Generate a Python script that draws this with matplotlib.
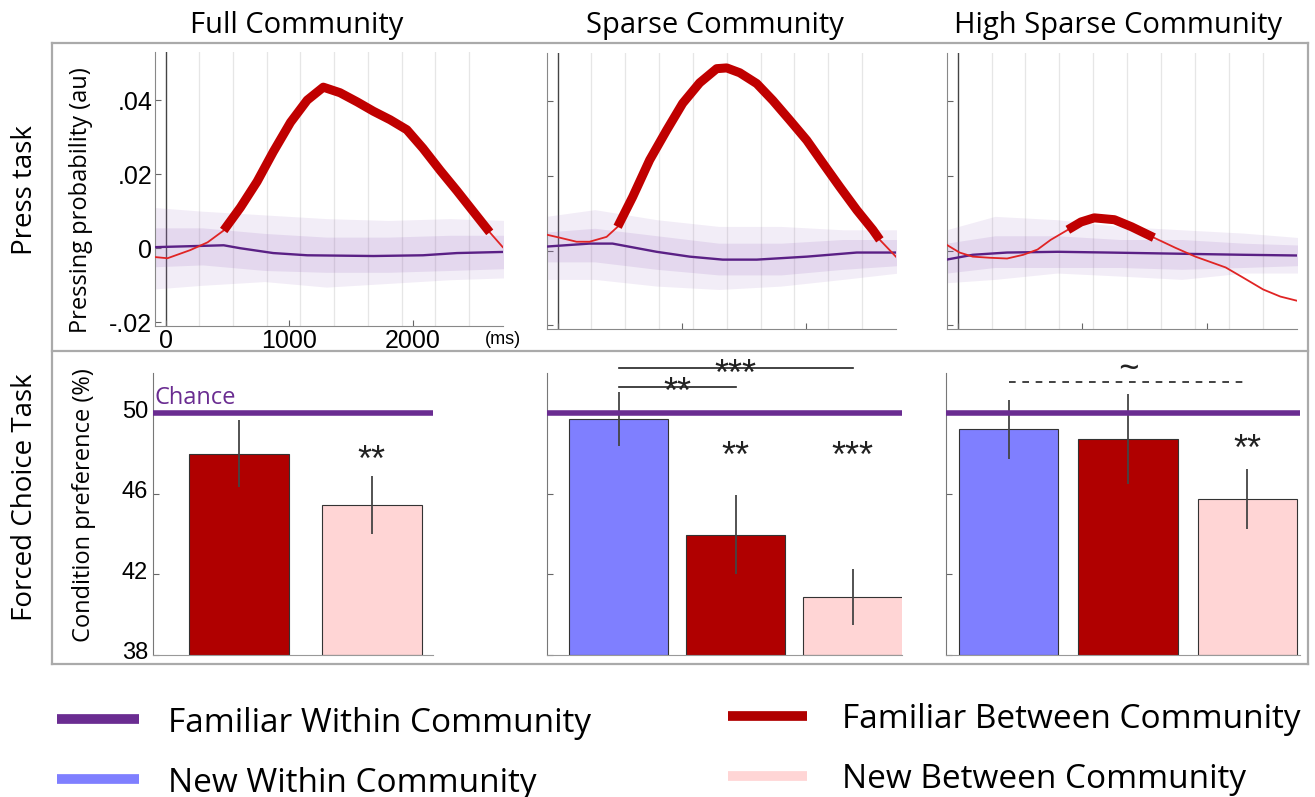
import numpy as np
import matplotlib
matplotlib.use("Agg")
import matplotlib.pyplot as plt
from matplotlib.lines import Line2D
from matplotlib.transforms import ScaledTranslation

# ---------------- data ----------------
panel_titles = ["Full Community", "Sparse Community", "High Sparse Community"]

# Press task: Familiar Between Community time course (ms, au)
red_t1 = [-80, 16, 200, 340, 470, 605, 740, 870, 1010, 1145, 1275, 1410, 1550, 1680,
          1815, 1950, 2080, 2220, 2355, 2485, 2620, 2725]
red_v1 = [-0.0024, -0.0027, -0.0005, 0.0016, 0.0048, 0.011, 0.018, 0.026, 0.034, 0.040,
          0.0435, 0.042, 0.0395, 0.037, 0.0347, 0.032, 0.027, 0.021, 0.0155, 0.010, 0.0043, 0.0003]
red_t2 = [-89, 16, 153, 258, 395, 484, 605, 742, 879, 1008, 1145, 1282, 1363, 1468, 1605,
          1734, 1871, 2008, 2137, 2274, 2411, 2540, 2597, 2726]
red_v2 = [0.0043, 0.0035, 0.0024, 0.0024, 0.0037, 0.0064, 0.0144, 0.0243, 0.0323, 0.0395,
          0.045, 0.0488, 0.049, 0.0477, 0.0448, 0.0403, 0.035, 0.0296, 0.0235, 0.0171,
          0.0109, 0.0056, 0.0029, -0.0016]
red_t3 = [-89, 16, 122, 260, 398, 528, 642, 748, 886, 992, 1098, 1260, 1398, 1577, 1748,
          1911, 2154, 2293, 2455, 2593, 2748]
red_v3 = [0.0016, -0.0005, -0.0016, -0.0019, -0.0021, -0.0011, 0.0003, 0.0029, 0.0056,
          0.0077, 0.0088, 0.0083, 0.0064, 0.0035, 0.0008, -0.0016, -0.0045, -0.0072,
          -0.0104, -0.0123, -0.0136]
sig_windows = [(470, 2620), (484, 2597), (886, 1577)]

# Familiar Within Community (mean of null) time course
pur_t1 = [-80, 470, 605, 870, 1145, 1680, 2080, 2355, 2725]
pur_v1 = [0.0003, 0.0008, 0.0, -0.0013, -0.0019, -0.0021, -0.0019, -0.0013, -0.0010]
pur_t2 = [-89, 258, 443, 798, 1065, 1331, 1605, 2008, 2411, 2726]
pur_v2 = [0.0011, 0.0019, 0.0019, -0.0003, -0.0016, -0.0024, -0.0024, -0.0016, -0.0005, -0.0005]
pur_t3 = [-89, 122, 398, 805, 1211, 1748, 2293, 2748]
pur_v3 = [-0.0024, -0.0011, -0.0005, -0.0003, -0.0005, -0.0008, -0.0011, -0.0013]

# spread of the individual Familiar Within Community traces
band_t = [-89, 300, 800, 1300, 1800, 2300, 2748]
outer_hi = [[0.011, 0.010, 0.009, 0.008, 0.0075, 0.008, 0.0075],
            [0.0092, 0.011, 0.0083, 0.0065, 0.0065, 0.0056, 0.0056],
            [0.0056, 0.0092, 0.0083, 0.0065, 0.0056, 0.0047, 0.0035]]
outer_lo = [[-0.011, -0.010, -0.009, -0.0105, -0.0095, -0.0085, -0.008],
            [-0.0077, -0.0077, -0.0095, -0.0104, -0.0095, -0.0077, -0.006],
            [-0.0086, -0.0077, -0.006, -0.0068, -0.0077, -0.006, -0.006]]
inner_hi = [[0.0055, 0.0055, 0.004, 0.003, 0.003, 0.0035, 0.0035],
            [0.005, 0.006, 0.004, 0.002, 0.002, 0.003, 0.003],
            [0.002, 0.004, 0.004, 0.003, 0.003, 0.002, 0.0015]]
inner_lo = [[-0.005, -0.0045, -0.006, -0.0065, -0.0065, -0.006, -0.0055],
            [-0.003, -0.003, -0.005, -0.0065, -0.0065, -0.005, -0.004],
            [-0.006, -0.0045, -0.0045, -0.0045, -0.005, -0.0045, -0.004]]

# Forced choice task
bar_labels = [["Familiar Between", "New Between"],
              ["New Within", "Familiar Between", "New Between"],
              ["New Within", "Familiar Between", "New Between"]]
bar_vals = [[48.0, 45.45], [49.72, 43.97, 40.9], [49.2, 48.73, 45.75]]
bar_errs = [[1.67, 1.43], [1.35, 1.95, 1.39], [1.45, 2.25, 1.48]]
chance_level = 50

legend_labels = ["Familiar Within Community", "New Within Community",
                 "Familiar Between Community", "New Between Community"]

# ---------------- style ----------------
C_PURPLE = "#6A2C91"
C_PURPLE_MEAN = "#5A2085"
C_BAND = "#9B6BC0"
C_RED_THICK = "#C00000"
C_RED_THIN = "#E02424"
C_BAR_RED = "#B00000"
C_BLUE = "#7F7FFF"
C_PINK = "#FFD5D5"
color_map = {"Familiar Between": C_BAR_RED, "New Between": C_PINK, "New Within": C_BLUE}

TXT = "Open Sans"
NUM = "Liberation Sans"

W, H = 1315, 797
fig = plt.figure(figsize=(W / 100, H / 100), dpi=100)
fig.patch.set_facecolor("white")


def ax_px(l, t, r, b):
    return fig.add_axes([l / W, 1 - b / H, (r - l) / W, (b - t) / H])


def fig_line(x0, y0, x1, y1, **kw):
    fig.add_artist(Line2D([x0 / W, x1 / W], [1 - y0 / H, 1 - y1 / H],
                          transform=fig.transFigure, **kw))


# frame
gray = "#AAAAAA"
fig_line(52, 43, 1308, 43, color=gray, lw=1.6)
fig_line(52, 351, 1308, 351, color=gray, lw=1.6)
fig_line(52, 664, 1308, 664, color=gray, lw=1.6)
fig_line(52, 43, 52, 664, color=gray, lw=1.6)
fig_line(1308, 43, 1308, 664, color=gray, lw=1.6)

# ---------------- top panels ----------------
top_boxes = [(155, 52, 503, 326), (547, 53, 896, 329), (947, 53, 1297, 329)]
title_x = [297, 715, 1118]
red_t = [red_t1, red_t2, red_t3]
red_v = [red_v1, red_v2, red_v3]
pur_t = [pur_t1, pur_t2, pur_t3]
pur_v = [pur_v1, pur_v2, pur_v3]
grid_step = 272.6

for i, box in enumerate(top_boxes):
    ax = ax_px(*box)
    ax.set_xlim(-85, 2727)
    ax.set_ylim(-0.021, 0.053)
    for k in range(1, 10):
        ax.axvline(k * grid_step, color="#E6E6E6", lw=0.9, zorder=0)
    ax.axvline(0, color="#444444", lw=1.0, zorder=1)
    bt = np.array(band_t)
    ax.fill_between(bt, outer_lo[i], outer_hi[i], color=C_BAND, alpha=0.12, lw=0, zorder=2)
    ax.fill_between(bt, inner_lo[i], inner_hi[i], color=C_BAND, alpha=0.16, lw=0, zorder=2)
    ax.plot(pur_t[i], pur_v[i], color=C_PURPLE_MEAN, lw=1.7, zorder=3)
    t = np.array(red_t[i])
    v = np.array(red_v[i])
    ax.plot(t, v, color=C_RED_THIN, lw=1.3, zorder=4)
    s0, s1 = sig_windows[i]
    m = (t >= s0) & (t <= s1)
    ax.plot(t[m], v[m], color=C_RED_THICK, lw=6.5, solid_capstyle="butt",
            solid_joinstyle="round", zorder=5)
    for sp in ["top", "right"]:
        ax.spines[sp].set_visible(False)
    ax.spines["left"].set_color("#888888")
    ax.spines["bottom"].set_color("#888888")
    ax.set_yticks([-0.02, 0, 0.02, 0.04])
    ax.set_xticks([0, 1000, 2000])
    ax.tick_params(direction="in", length=4, color="#666666", width=0.8)
    if i == 0:
        ax.set_yticklabels(["-.02", "0", ".02", ".04"], fontfamily=NUM, fontsize=18)
        ax.set_xticklabels(["0", "1000", "2000"], fontfamily=NUM, fontsize=18)
        ax.tick_params(pad=2)
        ax.set_ylabel("Pressing probability (au)", fontfamily=TXT, fontsize=17)
        ax.yaxis.set_label_coords(-0.177, 0.46)
        ax.text(1.0, -0.05, "(ms)", transform=ax.transAxes, fontfamily=NUM,
                fontsize=13, ha="center", va="center")
    else:
        ax.set_yticklabels([])
        ax.set_xticklabels([])
    fig.text(title_x[i] / W, 1 - 25 / H, panel_titles[i], fontfamily=TXT, fontsize=21,
             ha="center", va="center")
    ax.patch.set_alpha(0)

# ---------------- bottom panels ----------------
bot_boxes = [(153, 373, 433, 655), (547, 373, 902, 655), (946, 373, 1300, 655)]
xlims = [(0.353, 2.46), (0.389, 3.42), (0.476, 3.44)]
widths = [0.75, 0.85, 0.83]
bax = []
for i, box in enumerate(bot_boxes):
    ax = ax_px(*box)
    bax.append(ax)
    n = len(bar_vals[i])
    xs = np.arange(1, n + 1)
    cols = [color_map[l] for l in bar_labels[i]]
    ax.bar(xs, np.array(bar_vals[i]) - 38, bottom=38, width=widths[i], color=cols,
           edgecolor="#333333", linewidth=0.8, zorder=2)
    ax.errorbar(xs, bar_vals[i], yerr=bar_errs[i], fmt="none", ecolor="#444444",
                elinewidth=1.3, capsize=0, zorder=3)
    ax.axhline(chance_level, color=C_PURPLE, lw=4, zorder=4)
    ax.set_xlim(*xlims[i])
    ax.set_ylim(38, 52)
    ax.set_xticks([])
    ax.set_yticks([38, 42, 46, 50])
    ax.tick_params(direction="in", length=4, color="#666666", width=0.8)
    for sp in ["top", "right"]:
        ax.spines[sp].set_visible(False)
    ax.spines["left"].set_color("#777777")
    ax.spines["bottom"].set_color("#999999")
    if i == 0:
        ax.set_yticklabels(["38", "42", "46", "50"], fontfamily=NUM, fontsize=17)
        off = ScaledTranslation(0, 3 / 72, fig.dpi_scale_trans)
        for lab in ax.get_yticklabels():
            lab.set_transform(lab.get_transform() + off)
        ax.set_ylabel("Condition preference (%)", fontfamily=TXT, fontsize=17)
        ax.yaxis.set_label_coords(-0.203, 0.53)
        ax.text(xlims[0][0] + 0.01, 50.15, "Chance", color=C_PURPLE, fontfamily=TXT,
                fontsize=17, ha="left", va="bottom")
    else:
        ax.set_yticklabels([])
    ax.patch.set_alpha(0)

STAR = dict(fontfamily=NUM, fontsize=26, ha="center", va="center", color="#222222")
bax[0].text(2, 47.6, "**", **STAR)
bax[1].text(2, 47.8, "**", **STAR)
bax[1].text(3, 47.8, "***", **STAR)
bax[2].text(3, 48.15, "**", **STAR)
# significance brackets
bax[1].plot([1, 2], [51.31, 51.31], color="#222222", lw=1.2, clip_on=False)
bax[1].plot([1, 3], [52.23, 52.23], color="#222222", lw=1.2, clip_on=False)
bax[1].text(1.5, 51.0, "**", clip_on=False, **STAR)
bax[1].text(2.0, 51.9, "***", clip_on=False, **STAR)
bax[2].plot([1, 3], [51.55, 51.55], color="#222222", lw=1.2, ls=(0, (4, 4)), clip_on=False)
bax[2].text(2.0, 52.1, "~", clip_on=False, fontfamily=TXT, fontsize=26, ha="center",
            va="center", color="#222222")

# row labels
fig.text(25 / W, 1 - 190 / H, "Press task", rotation=90, fontfamily=TXT, fontsize=20,
         ha="center", va="center")
fig.text(25 / W, 1 - 497 / H, "Forced Choice Task", rotation=90, fontfamily=TXT,
         fontsize=20, ha="center", va="center")

# legend
leg_items = [(57, 139, 719, 168, C_PURPLE), (57, 139, 779, 168, C_BLUE),
             (728, 807, 716, 842, C_BAR_RED), (728, 807, 776, 842, C_PINK)]
for (x0, x1, y, tx, c), lab in zip(leg_items, legend_labels):
    fig_line(x0, y, x1, y, color=c, lw=7, solid_capstyle="butt")
    fig.text(tx / W, 1 - y / H, lab, fontfamily=TXT, fontsize=24, ha="left",
             va="center_baseline")

fig.savefig("out.png", dpi=100)
